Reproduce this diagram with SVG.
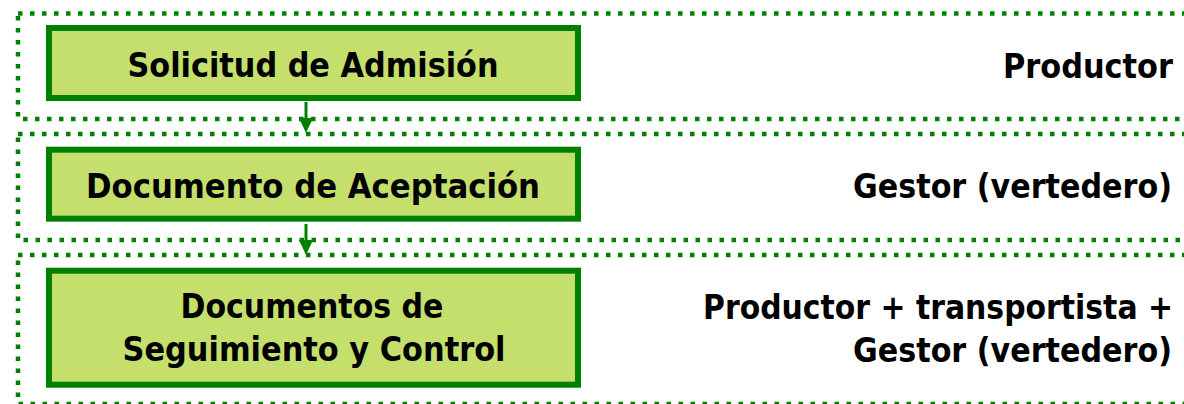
<svg xmlns="http://www.w3.org/2000/svg" width="1184" height="404" viewBox="0 0 1184 404">
<style>
.band{fill:none;stroke:#008000;stroke-width:4.5;stroke-dasharray:4.5 7.5}
.box{fill:#C4DF6B;stroke:#008000;stroke-width:6}
.t{font-family:"DejaVu Sans Condensed","DejaVu Sans",sans-serif;font-weight:bold;font-stretch:condensed;font-size:34px;fill:#000}
.c{text-anchor:middle}
.r{text-anchor:end}
.conn{fill:none;stroke:#008000;stroke-width:3}
</style>
<defs>
<marker id="ah" markerUnits="userSpaceOnUse" markerWidth="14" markerHeight="16" viewBox="0 0 14 16" refX="7" refY="15" orient="auto-start-reverse">
<path d="M0,0 L14,0 L7,15 Z" fill="#008000" transform="rotate(-90 7 8) translate(0,0)"/>
</marker>
</defs>
<rect width="1184" height="404" fill="#fff"/>
<g id="band1"><rect class="band" x="18" y="13.5" width="1200" height="105.5"/></g>
<g id="band2"><rect class="band" x="18" y="134" width="1200" height="106"/></g>
<g id="band3"><rect class="band" x="18" y="255" width="1200" height="149"/></g>
<g id="connectors">
<line class="conn" x1="306" y1="102" x2="306" y2="120"/>
<path d="M299,118 L313,118 L306,133 Z" fill="#008000"/>
<line class="conn" x1="306" y1="224" x2="306" y2="242"/>
<path d="M299,240 L313,240 L306,255 Z" fill="#008000"/>
</g>
<g id="node1">
<rect class="box" x="49" y="28" width="529" height="70"/>
<text class="t c" x="313" y="77" textLength="371" lengthAdjust="spacingAndGlyphs">Solicitud de Admisión</text>
</g>
<g id="node2">
<rect class="box" x="49" y="149.7" width="529" height="69"/>
<text class="t c" x="313" y="197.5" textLength="454" lengthAdjust="spacingAndGlyphs">Documento de Aceptación</text>
</g>
<g id="node3">
<rect class="box" x="49" y="270.7" width="529" height="114"/>
<text class="t c" x="312" y="318" textLength="263" lengthAdjust="spacingAndGlyphs">Documentos de</text>
<text class="t c" x="314" y="361" textLength="383" lengthAdjust="spacingAndGlyphs">Seguimiento y Control</text>
</g>
<g id="label1"><text class="t r" x="1173" y="78" textLength="170" lengthAdjust="spacingAndGlyphs">Productor</text></g>
<g id="label2"><text class="t r" x="1172" y="198" textLength="319" lengthAdjust="spacingAndGlyphs">Gestor (vertedero)</text></g>
<g id="label3">
<text class="t r" x="1173" y="319" textLength="470" lengthAdjust="spacingAndGlyphs">Productor + transportista +</text>
<text class="t r" x="1172" y="362" textLength="319" lengthAdjust="spacingAndGlyphs">Gestor (vertedero)</text>
</g>
</svg>
